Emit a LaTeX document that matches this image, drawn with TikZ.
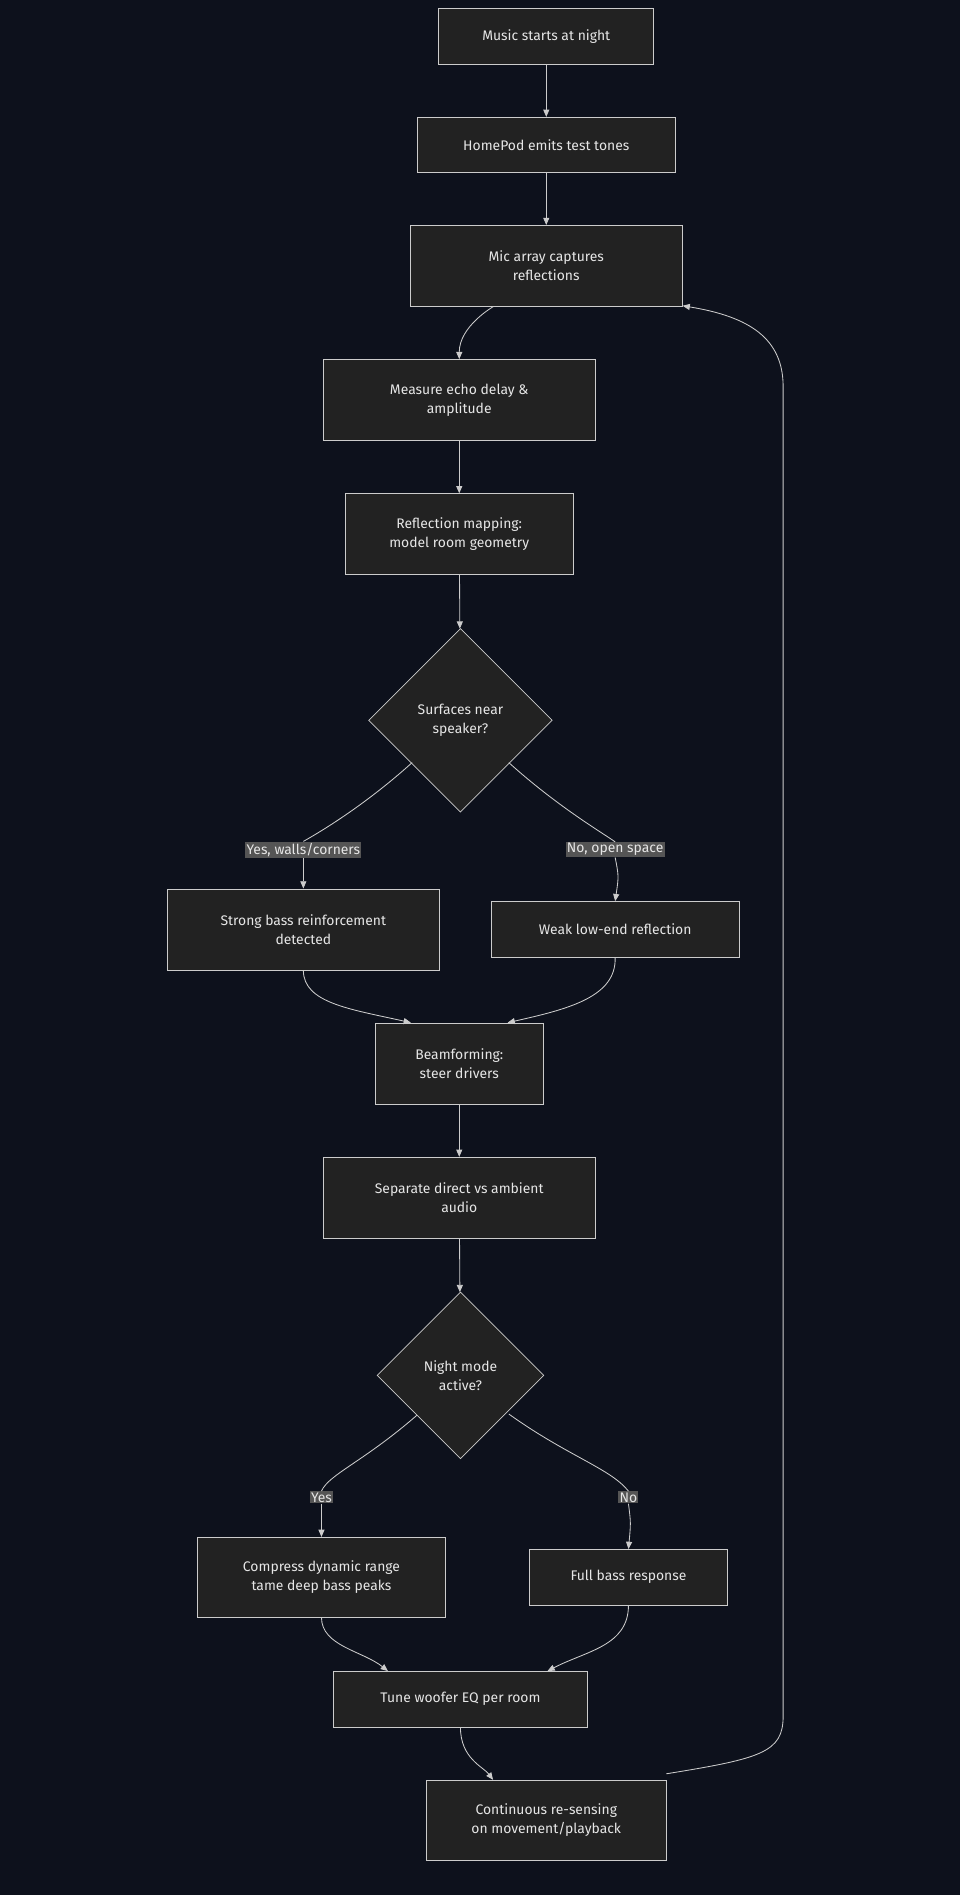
\documentclass[tikz,border=0pt]{standalone}
\usepackage{fontspec}
\setmainfont{Fira Sans}
\usetikzlibrary{shapes.geometric,arrows.meta}
\definecolor{bg}{HTML}{0D111C}
\definecolor{nodefill}{HTML}{222222}
\definecolor{stroke}{HTML}{CCCCCC}
\definecolor{txt}{HTML}{E6E6E6}
\definecolor{lbl}{HTML}{555555}
\begin{document}
\begin{tikzpicture}[x=1pt,y=-1pt,
  box/.style={draw=stroke,fill=nodefill,text=txt,line width=0.6pt,inner sep=0pt,align=center,font=\fontsize{11.5}{16}\selectfont},
  dia/.style={diamond,draw=stroke,fill=nodefill,text=txt,line width=0.6pt,inner sep=0pt,align=center,font=\fontsize{11.5}{16}\selectfont},
  lab/.style={fill=lbl,text=txt,inner sep=1pt,font=\fontsize{11.5}{14}\selectfont},
  ed/.style={draw=stroke,line width=0.7pt,-{Triangle[length=6pt,width=5pt]}}]
\fill[bg] (0,0) rectangle (794,1568);
\useasboundingbox (0,0) rectangle (794,1568);
\node[box,minimum width=178,minimum height=46] (n1) at (452,30) {Music starts at night};
\node[box,minimum width=214,minimum height=46] (n2) at (452,120) {HomePod emits test tones};
\node[box,minimum width=225,minimum height=67] (n3) at (452,220) {Mic array captures\\reflections};
\node[box,minimum width=225,minimum height=67] (n4) at (380,331) {Measure echo delay \&\\amplitude};
\node[box,minimum width=189,minimum height=67] (n5) at (380,442) {Reflection mapping:\\model room geometry};
\node[dia,minimum width=152,minimum height=152] (d1) at (381,596) {Surfaces near\\speaker?};
\node[box,minimum width=225,minimum height=67] (n7) at (251,769) {Strong bass reinforcement\\detected};
\node[box,minimum width=205,minimum height=46] (n8) at (509,769) {Weak low-end reflection};
\node[box,minimum width=139,minimum height=67] (n9) at (380,880) {Beamforming:\\steer drivers};
\node[box,minimum width=225,minimum height=67] (n10) at (380,991) {Separate direct vs ambient\\audio};
\node[dia,minimum width=138,minimum height=138] (d2) at (381,1138) {Night mode\\active?};
\node[box,minimum width=205,minimum height=66] (n12) at (266,1305) {Compress dynamic range\\tame deep bass peaks};
\node[box,minimum width=164,minimum height=46] (n13) at (520,1305) {Full bass response};
\node[box,minimum width=210,minimum height=46] (n14) at (381,1406) {Tune woofer EQ per room};
\node[box,minimum width=198,minimum height=66] (n15) at (452,1506) {Continuous re-sensing\\on movement/playback};
\draw[ed] (n1) -- (n2);
\draw[ed] (n2) -- (n3);
\draw[ed] ([xshift=-44]n3.south) .. controls +(0,0) and (380,270) .. (n4.north);
\draw[ed] (n4) -- (n5);
\draw[ed] (n5) -- (d1);
\node[lab] (l1) at (251,703) {Yes, walls/corners};
\node[lab] (l2) at (509,703) {No, open space};
\draw[draw=stroke,line width=0.7pt] (341,631) .. controls (300,668) and (262,690) .. (l1.north);
\draw[ed] (l1.south) .. controls (251,720) .. (n7.north);
\draw[draw=stroke,line width=0.7pt] (421,631) .. controls (462,668) and (500,690) .. (l2.north);
\draw[ed] (l2.south) .. controls (512,725) .. (n8.north);
\draw[ed] (n7.south) .. controls (251,830) and (290,835) .. ([xshift=-40]n9.north);
\draw[ed] (n8.south) .. controls (510,825) and (470,835) .. ([xshift=40]n9.north);
\draw[ed] (n9) -- (n10);
\draw[ed] (n10) -- (d2);
\node[lab] (l3) at (266,1239) {Yes};
\node[lab] (l4) at (520,1239) {No};
\draw[draw=stroke,line width=0.7pt] (345,1171) .. controls (300,1210) and (272,1220) .. (l3.north);
\draw[ed] (l3.south) .. controls (266,1255) .. (n12.north);
\draw[draw=stroke,line width=0.7pt] (421,1170) .. controls (470,1205) and (505,1215) .. (l4.north);
\draw[ed] (l4.south) .. controls (522,1260) .. (n13.north);
\draw[ed] (n12.south) .. controls (266,1362) and (300,1366) .. ([xshift=-60]n14.north);
\draw[ed] (n13.south) .. controls (520,1362) and (485,1366) .. ([xshift=72]n14.north);
\draw[ed] (n14.south) .. controls (381,1455) and (400,1462) .. ([xshift=-44]n15.north);
\draw[ed] ([yshift=5]n15.north east) .. controls (630,1455) and (648,1450) .. (648,1420) -- (648,320) .. controls (648,280) and (620,262) .. ([yshift=-33]n3.east);
\end{tikzpicture}
\end{document}
